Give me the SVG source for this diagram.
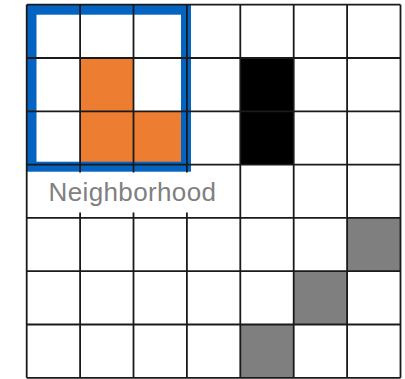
<svg xmlns="http://www.w3.org/2000/svg" width="405" height="379" viewBox="0 0 405 379">
  <style>
    .orange { fill: #ED7D31; }
    .black { fill: #000000; }
    .gray { fill: #7F7F7F; }
    .grid line { stroke: #1a1a1a; stroke-width: 1.8; }
    .nbhd { fill: none; stroke: #0563C1; stroke-width: 10; }
    .label { font-family: "Liberation Sans", Arial, sans-serif; font-size: 26px; fill: #808080; }
  </style>
  <rect x="0" y="0" width="405" height="379" fill="#ffffff"/>
  <g id="cells">
    <rect class="orange" x="80.1" y="58" width="53.4" height="106.6"/>
    <rect class="orange" x="133.5" y="111.3" width="53.4" height="53.3"/>
    <rect class="black" x="240.3" y="58" width="53.4" height="106.6"/>
    <rect class="gray" x="347.1" y="217.9" width="53.4" height="53.3"/>
    <rect class="gray" x="293.7" y="271.2" width="53.4" height="53.3"/>
    <rect class="gray" x="240.3" y="324.5" width="53.4" height="53.3"/>
  </g>
  <g id="neighborhood">
    <rect class="nbhd" x="31.5" y="9.7" width="154.5" height="157"/>
  </g>
  <g class="grid" id="grid">
    <line x1="26.7" y1="4.7" x2="26.7" y2="377.8"/>
    <line x1="80.1" y1="4.7" x2="80.1" y2="377.8"/>
    <line x1="133.5" y1="4.7" x2="133.5" y2="377.8"/>
    <line x1="186.9" y1="4.7" x2="186.9" y2="377.8"/>
    <line x1="240.3" y1="4.7" x2="240.3" y2="377.8"/>
    <line x1="293.7" y1="4.7" x2="293.7" y2="377.8"/>
    <line x1="347.1" y1="4.7" x2="347.1" y2="377.8"/>
    <line x1="400.5" y1="4.7" x2="400.5" y2="377.8"/>
    <line x1="26.7" y1="4.7" x2="400.5" y2="4.7"/>
    <line x1="26.7" y1="58" x2="400.5" y2="58"/>
    <line x1="26.7" y1="111.3" x2="400.5" y2="111.3"/>
    <line x1="26.7" y1="164.6" x2="400.5" y2="164.6"/>
    <line x1="26.7" y1="217.9" x2="400.5" y2="217.9"/>
    <line x1="26.7" y1="271.2" x2="400.5" y2="271.2"/>
    <line x1="26.7" y1="324.5" x2="400.5" y2="324.5"/>
    <line x1="26.7" y1="377.8" x2="400.5" y2="377.8"/>
  </g>
  <g id="label">
    <rect x="28" y="172.5" width="210.5" height="40" fill="#ffffff"/>
    <text class="label" x="48.5" y="201.3" textLength="167.5" lengthAdjust="spacing">Neighborhood</text>
  </g>
</svg>
